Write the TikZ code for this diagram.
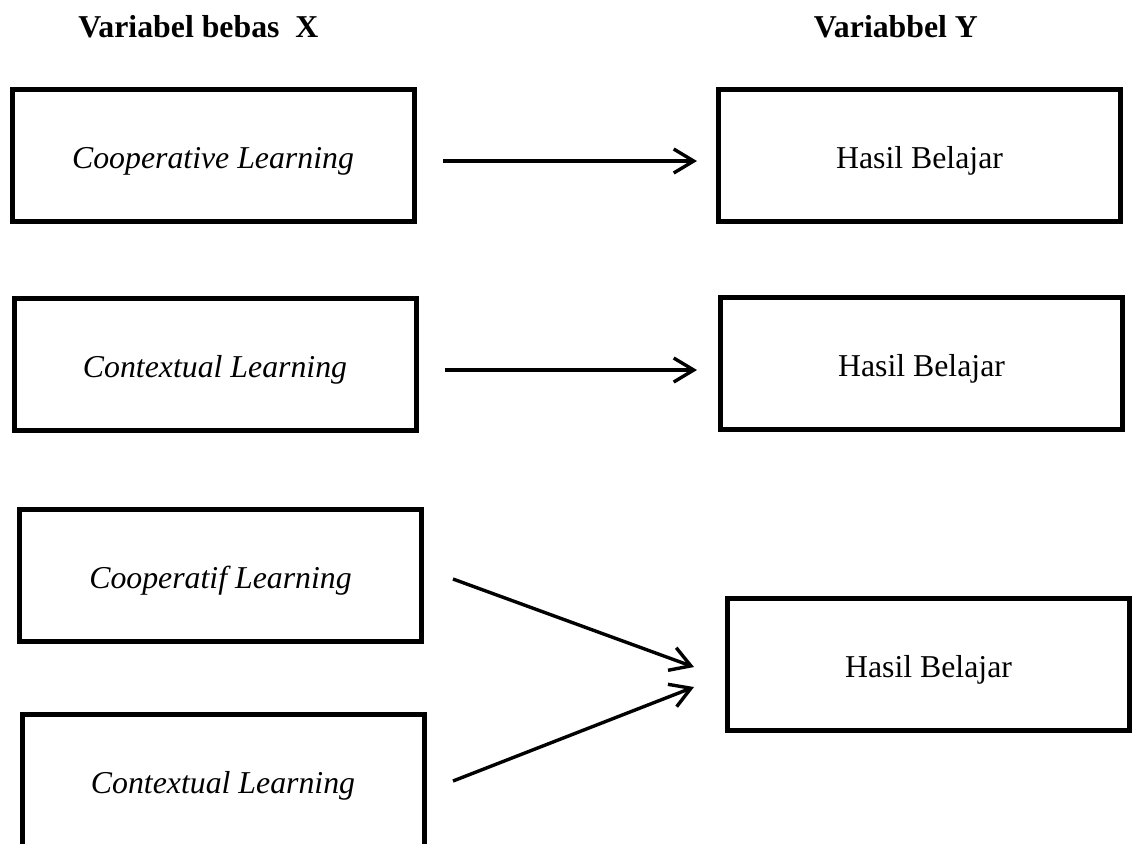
\documentclass[tikz,border=0pt]{standalone}
\usepackage{fontspec}
\setmainfont{Liberation Serif}
\usetikzlibrary{arrows.meta}
\begin{document}
\begin{tikzpicture}[x=0.5pt,y=-0.5pt,
  varbox/.style={draw, line width=2.5pt, minimum width=201pt, minimum height=66pt,
    text height=13pt, text depth=0pt, inner sep=0pt, font=\fontsize{15.9}{19}\selectfont},
  header/.style={anchor=base west, inner sep=0pt, font=\fontsize{15.9}{19}\selectfont\bfseries},
  arr/.style={line width=1.7pt, -{Straight Barb[length=10pt,width=12pt,line width=1.7pt]}}]
\useasboundingbox (0,0) rectangle (1138,843);
\clip (0,0) rectangle (1138,843);
\node[header] (hx) at (78,37) {Variabel bebas\ \ X};
\node[header] (hy) at (813.5,37) {Variabbel Y};
\node[varbox] (b1) at (213,155.5) {\itshape Cooperative Learning};
\node[varbox] (b2) at (215,364) {\itshape Contextual Learning};
\node[varbox] (b3) at (220.5,575.5) {\itshape Cooperatif Learning};
\node[varbox] (b4) at (223,780) {\itshape Contextual Learning};
\node[varbox] (r1) at (919.5,155) {Hasil Belajar};
\node[varbox] (r2) at (921.5,363) {Hasil Belajar};
\node[varbox] (r3) at (928.5,664.5) {Hasil Belajar};
\coordinate (a1s) at (443,161);
\coordinate (a1e) at (697,161);
\coordinate (a2s) at (445,370);
\coordinate (a2e) at (697,370);
\coordinate (a3s) at (453,579);
\coordinate (a3e) at (694,667);
\coordinate (a4s) at (453,781);
\coordinate (a4e) at (694,687);
\draw[arr] (a1s) -- (a1e);
\draw[arr] (a2s) -- (a2e);
\draw[arr] (a3s) -- (a3e);
\draw[arr] (a4s) -- (a4e);
\end{tikzpicture}
\end{document}
